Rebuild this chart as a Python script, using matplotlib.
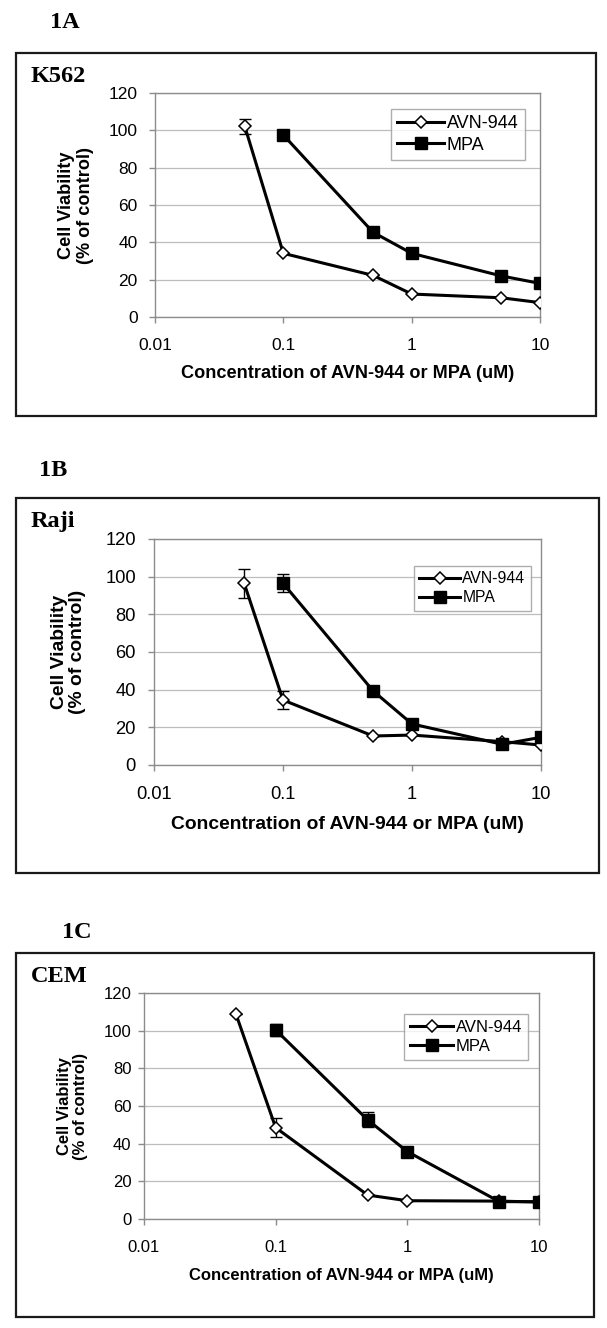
import matplotlib
matplotlib.use("Agg")
import matplotlib.pyplot as plt
from matplotlib.patches import Rectangle

# concentrations (uM)
conc_avn = [0.05, 0.1, 0.5, 1, 5, 10]
conc_mpa = [0.1, 0.5, 1, 5, 10]

# 1A - K562
k562_avn = [102.3, 34.1, 22.3, 12.3, 10.3, 7.7]
k562_avn_err = [4, 0, 0, 0, 0, 0]
k562_mpa = [97.5, 45.4, 34.1, 22.0, 18.0]
k562_mpa_err = [0, 0, 0, 0, 0]

# 1B - Raji
raji_avn = [96.5, 34.5, 15.4, 15.9, 12.4, 10.6]
raji_avn_err = [7.7, 4.9, 0, 0, 0, 0]
raji_mpa = [96.5, 39.3, 21.8, 11.0, 14.7]
raji_mpa_err = [4.9, 0, 0, 0, 0]

# 1C - CEM
cem_avn = [108.7, 48.5, 12.7, 9.7, 9.5, 9.0]
cem_avn_err = [0, 5.0, 0, 0, 0, 0]
cem_mpa = [100.4, 52.6, 35.8, 9.2, 9.2]
cem_mpa_err = [3.0, 4.0, 0, 0, 0]

xticks = [0.01, 0.1, 1, 10]
xtick_labels = ["0.01", "0.1", "1", "10"]
yticks = [0, 20, 40, 60, 80, 100, 120]

W, H = 607, 1328
fig = plt.figure(figsize=(W / 100, H / 100), dpi=100)

sans = ["Liberation Sans", "DejaVu Sans"]
serif = ["Liberation Serif", "DejaVu Serif"]


def px_box(x0, y0, x1, y1):
    # pixel box (top-left origin) -> figure fraction [l, b, w, h]
    return [x0 / W, 1 - y1 / H, (x1 - x0) / W, (y1 - y0) / H]


panels = [
    dict(tag="1A", tag_xy=(50, 22), name="K562", name_xy=(31, 77),
         frame=(15.5, 53, 596, 416), axes=(155, 93, 540, 317),
         avn=k562_avn, avn_err=k562_avn_err, mpa=k562_mpa, mpa_err=k562_mpa_err,
         tick_fs=12.5, lab_fs=13.1, leg_fs=13, ylab_x=-0.205, xlab_y=-0.25,
         leg_anchor=(0.961, 0.929), ypad=8.5),
    dict(tag="1B", tag_xy=(39, 470), name="Raji", name_xy=(31, 522),
         frame=(15.5, 498, 599, 873), axes=(154, 539, 541, 765),
         avn=raji_avn, avn_err=raji_avn_err, mpa=raji_mpa, mpa_err=raji_mpa_err,
         tick_fs=13.2, lab_fs=13.9, leg_fs=11.3, ylab_x=-0.221, xlab_y=-0.265,
         leg_anchor=(0.974, 0.881), ypad=9),
    dict(tag="1C", tag_xy=(62, 932), name="CEM", name_xy=(31, 977),
         frame=(15.5, 953, 594, 1317), axes=(144, 993, 539, 1219),
         avn=cem_avn, avn_err=cem_avn_err, mpa=cem_mpa, mpa_err=cem_mpa_err,
         tick_fs=12, lab_fs=12, leg_fs=12, ylab_x=-0.18, xlab_y=-0.248,
         leg_anchor=(0.972, 0.907), ypad=5),
]

for p in panels:
    # outer frame
    fx0, fy0, fx1, fy1 = p["frame"]
    fig.patches.append(Rectangle((fx0 / W, 1 - fy1 / H), (fx1 - fx0) / W, (fy1 - fy0) / H,
                                 transform=fig.transFigure, fill=False,
                                 edgecolor="#1a1a1a", linewidth=1.6))
    fig.text(p["tag_xy"][0] / W, 1 - p["tag_xy"][1] / H, p["tag"], family=serif,
             fontweight="bold", fontsize=17.5, ha="left", va="center")
    fig.text(p["name_xy"][0] / W, 1 - p["name_xy"][1] / H, p["name"], family=serif,
             fontweight="bold", fontsize=17.5, ha="left", va="center")

    ax = fig.add_axes(px_box(*p["axes"]))
    ax.set_xscale("log")

    ax.errorbar(conc_avn, p["avn"], yerr=p["avn_err"], fmt="none", ecolor="black",
                elinewidth=1.0, capsize=4, capthick=1.0, zorder=2)
    ax.errorbar(conc_mpa, p["mpa"], yerr=p["mpa_err"], fmt="none", ecolor="black",
                elinewidth=1.0, capsize=4, capthick=1.0, zorder=2)
    ax.plot(conc_avn, p["avn"], color="black", lw=2.2, marker="D", markersize=6.6,
            markerfacecolor="white", markeredgecolor="black", markeredgewidth=1.1,
            label="AVN-944", zorder=3)
    ax.plot(conc_mpa, p["mpa"], color="black", lw=2.2, marker="s", markersize=8.5,
            markerfacecolor="black", markeredgecolor="black", label="MPA", zorder=4)

    ax.set_xlim(0.01, 10)
    ax.set_ylim(0, 120)
    ax.set_xticks(xticks)
    ax.set_xticklabels(xtick_labels)
    ax.xaxis.set_minor_locator(matplotlib.ticker.NullLocator())
    ax.set_yticks(yticks)

    ax.yaxis.grid(True, color="#bdbdbd", linewidth=0.9)
    ax.set_axisbelow(True)
    for s in ax.spines.values():
        s.set_color("#8c8c8c")
        s.set_linewidth(1.0)

    ax.tick_params(axis="both", direction="out", length=4, width=1.0, color="#8c8c8c")
    ax.tick_params(axis="x", pad=11, labelsize=p["tick_fs"])
    ax.tick_params(axis="y", pad=p["ypad"], labelsize=p["tick_fs"])
    for lbl in ax.get_xticklabels() + ax.get_yticklabels():
        lbl.set_family(sans)

    ax.text(0.5, p["xlab_y"], "Concentration of AVN-944 or MPA (uM)", transform=ax.transAxes,
            family=sans, fontweight="bold", fontsize=p["lab_fs"], ha="center", va="center")
    ax.text(p["ylab_x"], 0.5, "Cell Viability\n(% of control)", transform=ax.transAxes,
            family=sans, fontweight="bold", fontsize=p["lab_fs"], ha="center", va="center",
            rotation=90, multialignment="center", linespacing=1.1)

    leg = ax.legend(loc="upper right", bbox_to_anchor=p["leg_anchor"], borderaxespad=0,
                    frameon=True, fancybox=False, handlelength=2.6, handletextpad=0.15,
                    labelspacing=0.25, borderpad=0.35, prop={"family": sans, "size": p["leg_fs"]})
    leg.get_frame().set_edgecolor("#9a9a9a")
    leg.get_frame().set_linewidth(1.0)

fig.savefig("out.png", dpi=100, facecolor="white")
